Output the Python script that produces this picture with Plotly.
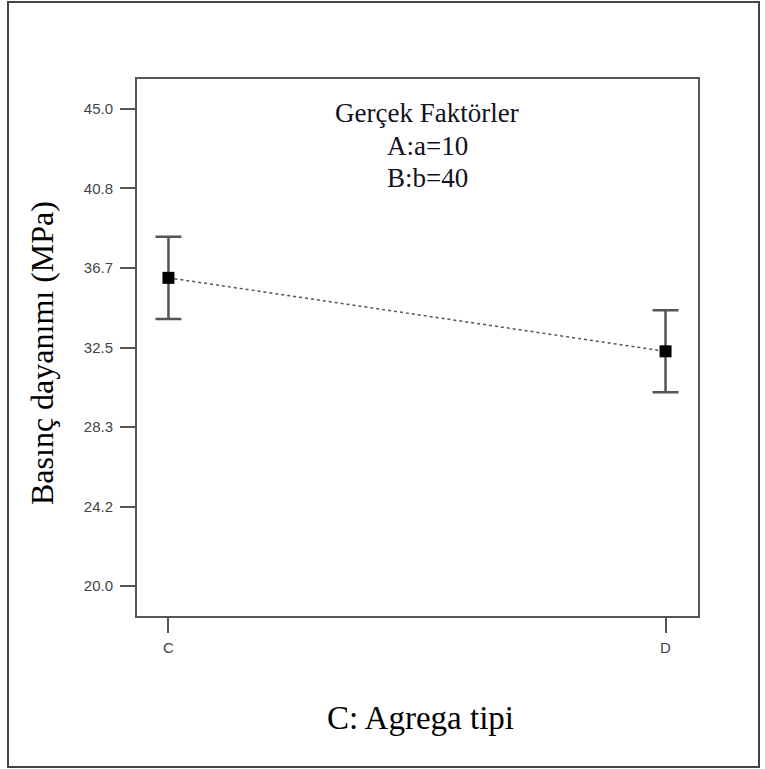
import plotly.graph_objects as go

categories = ["C", "D"]
means = [36.15, 32.3]
errors = [2.16, 2.15]
y_tickvals = [20.0, 24.1667, 28.3333, 32.5, 36.6667, 40.8333, 45.0]
y_ticktext = ["20.0", "24.2", "28.3", "32.5", "36.7", "40.8", "45.0"]
factor_lines = ["Gerçek Faktörler", "A:a=10", "B:b=40"]

W, H = 765, 769
L, R, T, B = 137, 698, 79, 616

def px_x(px):
    return (px - L) / (R - L)

def px_y(py):
    return (B - py) / (B - T)

fig = go.Figure()
fig.add_trace(go.Scatter(
    x=categories, y=means,
    mode="lines+markers",
    line=dict(color="#555555", width=1.5, dash="dot"),
    marker=dict(symbol="square", size=12, color="black"),
    error_y=dict(type="data", array=errors, visible=True,
                 color="#555555", thickness=2.5, width=13),
    showlegend=False,
))

tickfont = dict(family="Liberation Sans, Arial", size=15, color="#444444")
fig.update_layout(
    width=W, height=H,
    margin=dict(l=L, r=W - R, t=T, b=H - B),
    paper_bgcolor="white", plot_bgcolor="white",
    xaxis=dict(
        type="category", range=[-0.0633, 1.0653],
        showgrid=False, zeroline=False,
        showline=True, mirror=True, linecolor="#555555", linewidth=2,
        ticks="outside", ticklen=15, tickwidth=2, tickcolor="#555555",
        tickfont=tickfont, ticklabelstandoff=2,
    ),
    yaxis=dict(
        range=[18.43, 46.57],
        tickvals=y_tickvals, ticktext=y_ticktext,
        showgrid=False, zeroline=False,
        showline=True, mirror=True, linecolor="#555555", linewidth=2,
        ticks="outside", ticklen=15, tickwidth=2, tickcolor="#555555",
        tickfont=tickfont, ticklabelstandoff=4,
    ),
)

serif = "Liberation Serif, Times New Roman, serif"
fig.add_annotation(text="Basınç dayanımı (MPa)", xref="paper", yref="paper",
                   x=px_x(42), y=px_y(353), textangle=-90, showarrow=False,
                   font=dict(family=serif, size=32, color="black"),
                   xanchor="center", yanchor="middle")
fig.add_annotation(text="C: Agrega tipi", xref="paper", yref="paper",
                   x=px_x(420), y=px_y(718), showarrow=False,
                   font=dict(family=serif, size=33, color="black"),
                   xanchor="center", yanchor="middle")
for txt, py in zip(factor_lines, [113, 146, 178]):
    fig.add_annotation(text=txt, xref="paper", yref="paper",
                       x=px_x(427), y=px_y(py), showarrow=False,
                       font=dict(family=serif, size=27, color="#111122"),
                       xanchor="center", yanchor="middle")

fig.add_shape(type="rect", xref="paper", yref="paper",
              x0=px_x(8), x1=px_x(759), y0=px_y(767), y1=px_y(2),
              line=dict(color="#444444", width=2), fillcolor="rgba(0,0,0,0)")

fig.write_html("out.html", config={"displayModeBar": False},
               post_script="document.body.style.margin='0';")
